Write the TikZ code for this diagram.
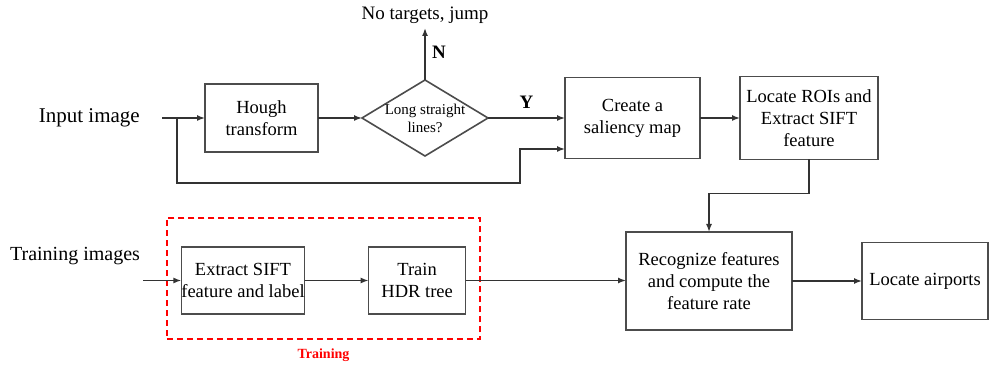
\documentclass[tikz,border=0pt]{standalone}
\usepackage{fontspec}
\setmainfont{Liberation Serif}
\usetikzlibrary{shapes.geometric, arrows.meta, positioning, fit}
\tikzstyle{block} = [rectangle, draw=black!70, line width=1.6pt, text centered, align=center, font=\fontsize{18.5}{22}\selectfont, inner sep=0pt, outer sep=0pt]
\tikzstyle{decision} = [diamond, draw=black!70, line width=1.6pt, inner sep=0pt, outer sep=0pt, minimum width=126pt, minimum height=76pt]
\tikzstyle{arrow} = [line width=1.5pt, draw=black!80, ->, >={Latex[length=8pt, width=6pt]}]
\tikzstyle{plain} = [inner sep=0pt, font=\fontsize{21}{24}\selectfont]
\tikzstyle{trainframe} = [draw=red, dash pattern=on 6pt off 4pt, line width=1.6pt]

\begin{document}
\begin{tikzpicture}[x=1pt, y=1pt]
        \useasboundingbox (0,0) rectangle (990,364);

        % Upper row
        \node (hough) [block, minimum width=113pt, minimum height=68pt] at (261.5,246) {Hough\\transform};
        \node (input) [plain, left=65pt of hough] {Input image};
        \node (decide) [decision, right=44pt of hough, label={[font=\fontsize{15}{18}\selectfont, align=center]center:Long straight\\lines?}] {};
        \node (notarget) [plain, font=\fontsize{19}{22}\selectfont, above=56pt of decide] {No targets, jump};
        \node (create) [block, right=77pt of decide, minimum width=135pt, minimum height=81pt] {Create a\\saliency map};
        \node (rois) [block, right=40pt of create, minimum width=138pt, minimum height=83pt] {Locate ROIs and\\Extract SIFT\\feature};

        % Lower row
        \node (extract) [block, minimum width=120pt, minimum height=67pt] at (243,83.5) {Extract SIFT\\feature and label};
        \node (train) [block, right=64pt of extract, minimum width=97pt, minimum height=67pt] {Train\\HDR tree};
        \node (trainimg) [plain, font=\fontsize{20}{24}\selectfont] at (75,108) {Training images};
        \node (recog) [block, minimum width=166pt, minimum height=98pt] at (709,83) {Recognize features\\and compute the\\feature rate};
        \node (airports) [block, right=70pt of recog, minimum width=126pt, minimum height=77pt] {Locate airports};

        % Training frame
        \node (trainbox) [trainframe, fit=(extract)(train), inner xsep=14.5pt, inner ysep=27pt, yshift=2pt] {};
        \node (trainlbl) [inner sep=0pt, text=red, font=\fontsize{14}{16}\selectfont\bfseries, below=9pt of trainbox] {Training};

        % Free ends and bends
        \coordinate (instart) at (162,246);
        \coordinate (split) at (177,246);
        \coordinate (turn) at (520,181);
        \coordinate (trainin) at (143,83.5);

        % Arrows
        \draw [arrow] (instart) -- (hough.west);
        \draw [arrow] (split) |- (turn) |- ([yshift=-31pt]create.west);
        \draw [arrow] (hough) -- (decide);
        \draw [arrow, shorten >=4pt] (decide.north) -- (notarget.south) node[midway, right, xshift=3pt, font=\fontsize{19}{22}\selectfont\bfseries] {N};
        \draw [arrow] (decide.east) -- (create.west) node[midway, above, yshift=5pt, font=\fontsize{19}{22}\selectfont\bfseries] {Y};
        \draw [arrow] (create) -- (rois);
        \draw [arrow] (rois.south) -- ++(0,-34pt) -| (recog.north);
        \draw [arrow] (trainin) -- (extract.west);
        \draw [arrow] (extract) -- (train);
        \draw [arrow] (train.east) -- (train.east -| recog.west);
        \draw [arrow] (recog) -- (airports);
    \end{tikzpicture}
\end{document}
